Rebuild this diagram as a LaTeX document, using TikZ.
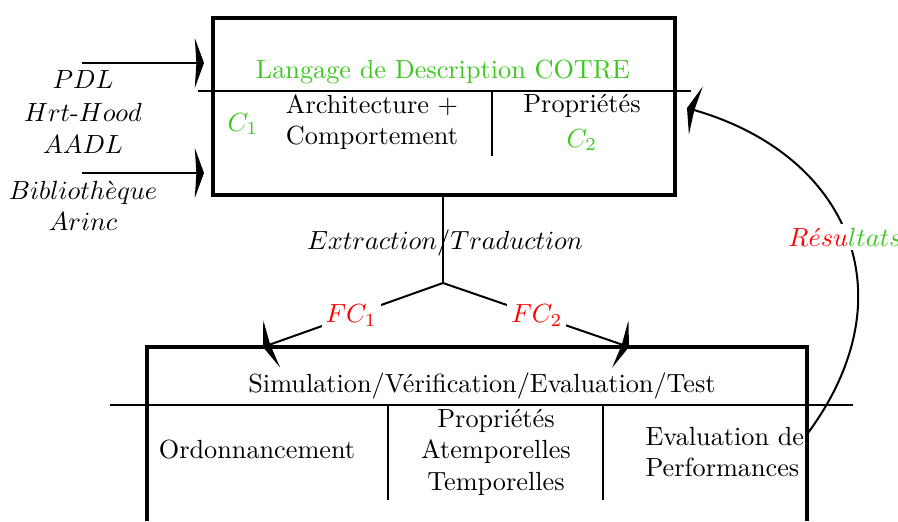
\documentclass[tikz,border=0pt]{standalone}
\usetikzlibrary{arrows.meta}
\definecolor{cgreen}{RGB}{60,200,30}
\definecolor{cred}{RGB}{255,0,0}
\begin{document}
\begin{tikzpicture}[x=0.381pt,y=-0.381pt,
  thickline/.style={line width=1.2pt},
  thinline/.style={line width=0.76pt},
  lbl/.style={inner sep=0pt},
  arr/.style={thinline,-{Stealth[length=3.5pt,width=19pt,inset=0.6pt]}},
  wlbl/.style={fill=white,inner sep=1.5pt}]
\useasboundingbox (0,0) rectangle (898,521);
% top box
\coordinate (tbnw) at (213,18);
\coordinate (tbse) at (675,195);
\draw[thickline] (tbnw) rectangle (tbse);
\coordinate (th1) at (198,91);
\coordinate (th2) at (691,91);
\draw[thinline] (th1) -- (th2);
\coordinate (tv1) at (492,91);
\coordinate (tv2) at (492,156);
\draw[thinline] (tv1) -- (tv2);
\node[lbl,text=cgreen] (lang) at (443,72) {Langage de Description COTRE};
\node[lbl,text=cgreen] (c1) at (243,124) {$C_1$};
\node[lbl,align=center] (arch) at (372,122) {Architecture +\\Comportement};
\node[lbl] (prop1) at (582,106) {Propriétés};
\node[lbl,text=cgreen] (c2) at (582,140) {$C_2$};
% left inputs
\coordinate (a1s) at (82,63);
\coordinate (a1e) at (204,63);
\coordinate (a2s) at (82,173);
\coordinate (a2e) at (204,173);
\draw[arr] (a1s) -- (a1e);
\draw[arr] (a2s) -- (a2e);
\node[lbl] (pdl) at (83,80) {$PDL$};
\node[lbl] (hrt) at (83,112) {$Hrt\mbox{-}Hood$};
\node[lbl] (aadl) at (83,145) {$AADL$};
\node[lbl] (bib) at (83,193) {$Biblioth\grave{e}que$};
\node[lbl] (arinc) at (83,222) {$Arinc$};
% stem and fork
\coordinate (stemtop) at (443,195);
\coordinate (fork) at (443,283);
\draw[thinline] (stemtop) -- (fork);
\node[lbl] (extr) at (445,243) {$Extraction/Traduction$};
\coordinate (fc1tip) at (263,347);
\coordinate (fc2tip) at (629,347);
\draw[arr] (fork) -- node[wlbl,pos=0.51,text=cred] (fc1) {$FC_1$} (fc1tip);
\draw[arr] (fork) -- node[wlbl,pos=0.505,text=cred] (fc2) {$FC_2$} (fc2tip);
% bottom box
\coordinate (bb1) at (147,521);
\coordinate (bb2) at (147,347);
\coordinate (bb3) at (807,347);
\coordinate (bb4) at (807,521);
\draw[thickline] (bb1) -- (bb2) -- (bb3) -- (bb4);
\coordinate (bh1) at (110,405);
\coordinate (bh2) at (853,405);
\draw[thinline] (bh1) -- (bh2);
\coordinate (bv1a) at (388,405);
\coordinate (bv1b) at (388,500);
\coordinate (bv2a) at (603,405);
\coordinate (bv2b) at (603,500);
\draw[thinline] (bv1a) -- (bv1b);
\draw[thinline] (bv2a) -- (bv2b);
\node[lbl] (sim) at (482,386) {Simulation/Vérification/Evaluation/Test};
\node[lbl] (ord) at (257,450) {Ordonnancement};
\node[lbl,align=center] (prop2) at (496,452) {Propriétés\\Atemporelles\\Temporelles};
\node[lbl,align=left,anchor=west] (evalp) at (645,452) {Evaluation de\\Performances};
% feedback curve
\coordinate (rs) at (808,433);
\coordinate (re) at (687,108);
\draw[arr] (rs) .. controls (911,293) and (847,154) .. (re);
\node[wlbl] (res) at (845,237) {$\textcolor{cred}{R\acute{e}su}\textcolor{cgreen}{ltats}$};
\end{tikzpicture}
\end{document}
